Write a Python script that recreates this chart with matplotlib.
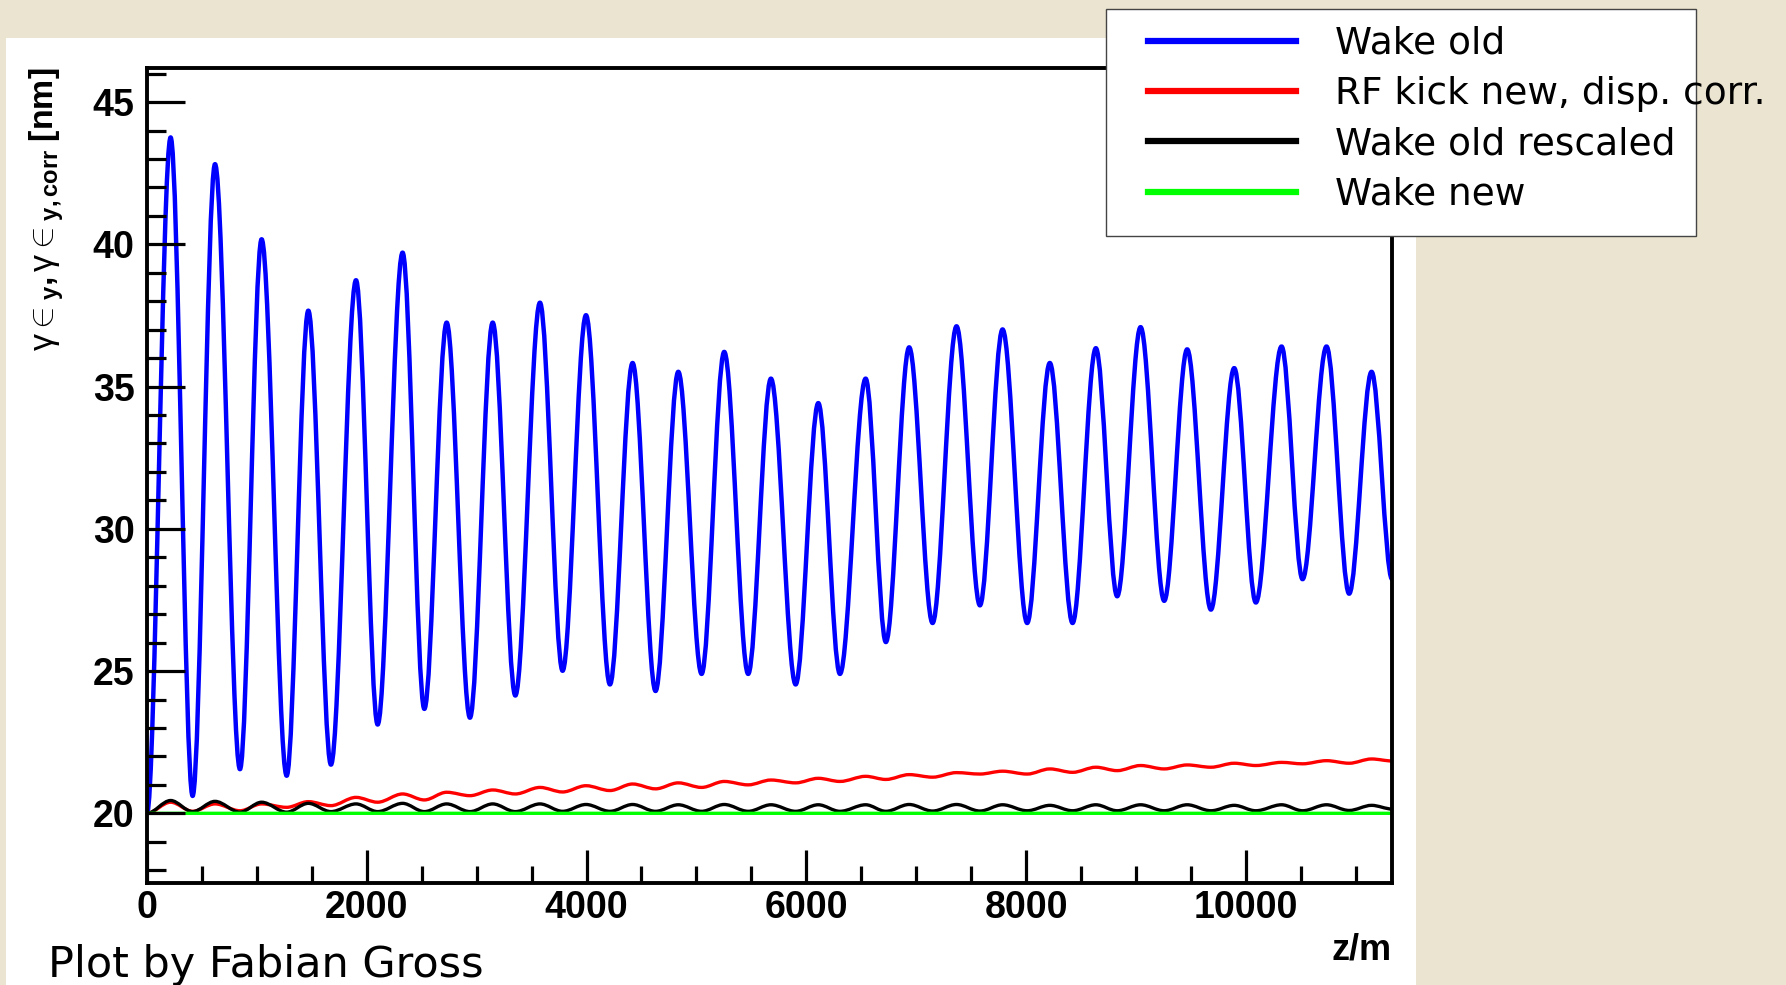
import matplotlib
matplotlib.use("Agg")
import matplotlib.pyplot as plt
from matplotlib.path import Path
from matplotlib.patches import PathPatch, Rectangle
from matplotlib.lines import Line2D
from matplotlib.ticker import MultipleLocator

# extrema of the curves (z in m)
z_ext = [0, 215, 415, 619, 846, 1043, 1271, 1468, 1674, 1902, 2099, 2326, 2524,
         2727, 2939, 3146, 3352, 3576, 3782, 3995, 4213, 4419, 4628, 4835, 5047,
         5253, 5471, 5678, 5903, 6109, 6306, 6540, 6724, 6936, 7149, 7367, 7580,
         7786, 8010, 8216, 8423, 8635, 8829, 9042, 9257, 9466, 9682, 9894, 10091,
         10325, 10516, 10734, 10940, 11144, 11331]

wake_old = [20.0, 43.76, 20.61, 42.82, 21.55, 40.18, 21.32, 37.67, 21.71, 38.74,
            23.12, 39.71, 23.67, 37.25, 23.36, 37.25, 24.14, 37.95, 25.01, 37.51,
            24.53, 35.83, 24.30, 35.52, 24.90, 36.22, 24.90, 35.28, 24.53, 34.42,
            24.90, 35.28, 26.02, 36.38, 26.69, 37.12, 27.31, 37.01, 26.69, 35.83,
            26.69, 36.35, 27.63, 37.09, 27.47, 36.31, 27.16, 35.65, 27.41, 36.41,
            28.23, 36.41, 27.72, 35.52, 28.23]

rf_kick_new = [20.0, 20.39, 20.07, 20.33, 20.09, 20.33, 20.21, 20.41, 20.27, 20.56,
               20.39, 20.68, 20.47, 20.74, 20.62, 20.82, 20.68, 20.91, 20.75, 20.97,
               20.80, 21.03, 20.86, 21.07, 20.91, 21.12, 21.00, 21.17, 21.07, 21.23,
               21.12, 21.30, 21.19, 21.36, 21.27, 21.43, 21.38, 21.48, 21.38, 21.56,
               21.44, 21.62, 21.50, 21.68, 21.56, 21.70, 21.62, 21.76, 21.68, 21.79,
               21.74, 21.85, 21.76, 21.91, 21.84]

wake_old_rescaled = [20.0, 20.45, 20.06, 20.42, 20.04, 20.39, 20.04, 20.35, 20.06, 20.33,
                     20.06, 20.35, 20.06, 20.33, 20.06, 20.33, 20.06, 20.33, 20.07, 20.31,
                     20.07, 20.31, 20.07, 20.30, 20.07, 20.31, 20.07, 20.30, 20.07, 20.30,
                     20.07, 20.30, 20.07, 20.31, 20.08, 20.31, 20.08, 20.30, 20.09, 20.28,
                     20.09, 20.30, 20.09, 20.30, 20.09, 20.30, 20.09, 20.28, 20.09, 20.30,
                     20.09, 20.30, 20.10, 20.28, 20.15]

z_new = [0, 11331]
wake_new = [20.0, 20.0]

labels = ["Wake old", "RF kick new, disp. corr.", "Wake old rescaled", "Wake new"]
colors = ["#0000ff", "#ff0000", "#000000", "#00ff00"]

W, H = 1786, 985
BG = "#ebe4d1"

plt.rcParams["font.family"] = ["Liberation Sans", "DejaVu Sans"]
plt.rcParams["mathtext.fontset"] = "custom"
plt.rcParams["mathtext.rm"] = "Liberation Sans"
plt.rcParams["mathtext.bf"] = "Liberation Sans:bold"
plt.rcParams["mathtext.it"] = "Liberation Sans:italic"


def wave_path(z, v, k=0.34):
    """Smooth path through the extrema, flat tangent at every point."""
    verts = [(z[0], v[0])]
    codes = [Path.MOVETO]
    for i in range(1, len(z)):
        dz = z[i] - z[i - 1]
        verts += [(z[i - 1] + k * dz, v[i - 1]), (z[i] - k * dz, v[i]), (z[i], v[i])]
        codes += [Path.CURVE4] * 3
    return Path(verts, codes)


fig = plt.figure(figsize=(W / 100, H / 100), dpi=100, facecolor=BG)

# white canvas behind the plot
fig.patches.append(Rectangle((6 / W, 0), (1416 - 6) / W, 1 - 38 / H,
                             transform=fig.transFigure, facecolor="white",
                             edgecolor="none", zorder=-10))

ax = fig.add_axes([147 / W, 1 - 883 / H, (1392 - 147) / W, (883 - 68) / H])
ax.set_xlim(0, 11330)
ax.set_ylim(17.55, 46.2)

series = [(z_ext, wake_old, 3.2), (z_ext, rf_kick_new, 2.4),
          (z_ext, wake_old_rescaled, 2.4), (z_new, wake_new, 2.4)]
for (z, v, lw), c in zip(series, colors):
    ax.add_patch(PathPatch(wave_path(z, v), fill=False, edgecolor=c, lw=lw,
                           joinstyle="round", capstyle="butt"))

for s in ax.spines.values():
    s.set_linewidth(2.8)

ax.xaxis.set_major_locator(MultipleLocator(2000))
ax.xaxis.set_minor_locator(MultipleLocator(500))
ax.yaxis.set_major_locator(MultipleLocator(5))
ax.yaxis.set_minor_locator(MultipleLocator(1))
ax.tick_params(which="both", direction="in", top=False, right=False, width=2.3,
               labelsize=27)
ax.tick_params(axis="x", which="major", length=24, pad=5)
ax.tick_params(axis="x", which="minor", length=12)
ax.tick_params(axis="y", which="major", length=27, pad=9)
ax.tick_params(axis="y", which="minor", length=13.5)
for lbl in ax.get_xticklabels() + ax.get_yticklabels():
    lbl.set_fontweight("bold")

# axis titles
fig.text(1392 / W, 1 - 959 / H, "z/m", ha="right", va="baseline",
         fontsize=26, fontweight="bold")
fig.text(47 / W, 1 - 68 / H,
         r"$\mathrm{\gamma\in}_{\mathbf{y}}\mathbf{,}\,\mathrm{\gamma\in}_{\mathbf{y,corr}}\;\mathbf{[nm]}$",
         rotation=90, ha="center", va="top", fontsize=24.5)

# legend box sticks out over the frame, text runs past it
fig.patches.append(Rectangle((1106 / W, 1 - 236 / H), (1696 - 1106) / W, (236 - 9) / H,
                             transform=fig.transFigure, facecolor="white",
                             edgecolor="#444444", lw=1.0, zorder=3))
handles = [Line2D([], [], color=c, lw=4.5) for c in colors]
fig.legend(handles, labels, loc="upper left", bbox_to_anchor=(1148 / W, 1 - 26 / H),
           frameon=False, prop={"family": "DejaVu Sans", "size": 27},
           handlelength=3.95, handletextpad=1.04, borderpad=0, borderaxespad=0,
           labelspacing=0.38)

fig.text(48 / W, 1 - 977 / H, "Plot by Fabian Gross", fontsize=31,
         family="DejaVu Sans", va="baseline")

fig.savefig("out.png", dpi=100, facecolor=BG)
